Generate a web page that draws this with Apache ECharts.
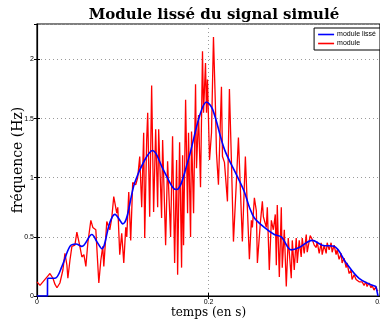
<!DOCTYPE html>
<html>
<head>
<meta charset="utf-8">
<script src="https://cdn.jsdelivr.net/npm/echarts@6/dist/echarts.min.js"></script>
<style>html,body{margin:0;padding:0;background:#fff}#c{width:380px;height:324px}</style>
</head>
<body>
<div id="c"></div>
<script>
// module (raw) — time in seconds, value in Hz
const redT = [0,0.0035,0.0058,0.0093,0.0128,0.0151,0.0186,0.0209,0.0233,0.0267,0.0302,0.0326,0.0349,0.0360,0.0384,0.0407,0.0442,0.0465,0.0500,0.0523,0.0547,0.0570,0.0593,0.0628,0.0651,0.0686,0.0721,0.0744,0.0767,0.0779,0.0814,0.0849,0.0872,0.0895,0.0930,0.0942,0.0965,0.0988,0.1012,0.1035,0.1047,0.1070,0.1093,0.1116,0.1151,0.1174,0.1198,0.1221,0.1244,0.1256,0.1279,0.1291,0.1314,0.1337,0.1360,0.1384,0.1407,0.1419,0.1453,0.1465,0.1500,0.1523,0.1558,0.1581,0.1605,0.1628,0.1640,0.1663,0.1686,0.1698,0.1709,0.1733,0.1756,0.1767,0.1791,0.1802,0.1826,0.1849,0.1860,0.1884,0.1907,0.1930,0.1942,0.1965,0.1977,0.1988,0.2012,0.2035,0.2058,0.2081,0.2093,0.2116,0.2151,0.2163,0.2186,0.2221,0.2244,0.2267,0.2291,0.2326,0.2349,0.2372,0.2395,0.2430,0.2453,0.2477,0.2500,0.2512,0.2535,0.2558,0.2570,0.2593,0.2605,0.2628,0.2640,0.2674,0.2686,0.2709,0.2733,0.2756,0.2779,0.2791,0.2802,0.2826,0.2849,0.2860,0.2884,0.2907,0.2930,0.2965,0.2977,0.3000,0.3023,0.3035,0.3058,0.3081,0.3093,0.3116,0.3140,0.3151,0.3186,0.3209,0.3233,0.3256,0.3267,0.3291,0.3314,0.3326,0.3349,0.3372,0.3384,0.3407,0.3430,0.3442,0.3465,0.3488,0.3500,0.3523,0.3547,0.3558,0.3581,0.3605,0.3616,0.3640,0.3663,0.3674,0.3698,0.3721,0.3733,0.3756,0.3791,0.3814,0.3837,0.3849,0.3872,0.3895,0.3907,0.3930,0.3953,0.3965,0.3977];
const redV = [0.12,0.09,0.08,0.14,0.17,0.19,0.15,0.10,0.07,0.11,0.22,0.36,0.26,0.15,0.30,0.42,0.43,0.54,0.42,0.33,0.35,0.25,0.45,0.64,0.58,0.56,0.11,0.30,0.42,0.25,0.63,0.56,0.66,0.84,0.70,0.75,0.35,0.53,0.28,0.58,0.50,0.88,0.47,0.96,0.94,1.00,1.18,0.75,1.38,0.49,1.32,1.55,0.67,1.78,0.71,1.41,0.75,1.41,0.66,1.32,0.43,1.14,0.50,1.35,0.28,1.15,0.18,1.30,0.24,1.19,0.43,1.66,0.70,1.38,0.50,1.39,0.70,1.79,1.08,1.53,0.92,2.07,1.55,1.97,1.55,1.83,1.15,1.38,2.19,1.60,1.21,0.94,1.77,1.18,1.13,0.80,1.75,1.15,0.46,0.98,1.34,0.90,0.46,1.18,0.75,0.31,0.64,0.58,0.83,0.72,0.28,0.28,0.62,0.80,0.67,0.58,0.75,0.22,0.64,0.56,0.69,0.26,0.77,0.16,0.75,0.24,0.56,0.08,0.49,0.15,0.47,0.22,0.49,0.28,0.47,0.33,0.49,0.36,0.52,0.37,0.51,0.48,0.43,0.41,0.46,0.36,0.45,0.35,0.43,0.36,0.45,0.39,0.45,0.37,0.43,0.35,0.39,0.31,0.36,0.28,0.32,0.24,0.28,0.19,0.22,0.14,0.18,0.14,0.15,0.12,0.12,0.09,0.12,0.08,0.11,0.07,0.09,0.05,0.08,0.05,0.04];

// module lissé (smoothed)
const blueT = [0,0.0122,0.0123,0.0209,0.0291,0.0384,0.0453,0.0523,0.0640,0.0698,0.0756,0.0849,0.0907,0.1000,0.1140,0.1256,0.1349,0.1465,0.1581,0.1628,0.1756,0.1895,0.1977,0.2047,0.2186,0.2337,0.2419,0.2477,0.2535,0.2651,0.2767,0.2849,0.2965,0.3058,0.3209,0.3326,0.3465,0.3605,0.3756,0.3953,0.3977];
const blueV = [0,0,0.15,0.15,0.25,0.42,0.44,0.42,0.52,0.46,0.40,0.62,0.69,0.61,0.96,1.15,1.23,1.08,0.92,0.90,1.13,1.52,1.64,1.58,1.24,1.01,0.88,0.75,0.66,0.58,0.52,0.50,0.39,0.41,0.47,0.43,0.42,0.28,0.15,0.08,0];

const xTicks = [0, 0.2, 0.4];
const yTicks = [0, 0.5, 1, 1.5, 2];
const titleText = 'Module lissé du signal simulé';
const xName = 'temps (en s)';
const yName = 'fréquence (Hz)';
const nameSmooth = 'module lissé';
const nameRaw = 'module';

const zip = (a, b) => a.map((t, i) => [t, b[i]]);
const redData = zip(redT, redV);
const blueAll = zip(blueT, blueV);
const blueStart = blueAll.slice(0, 3);
const blueMid = blueAll.slice(2, blueAll.length - 1);
const blueEnd = blueAll.slice(blueAll.length - 2);

const chart = echarts.init(document.getElementById('c'), null, {renderer: 'canvas'});
const tickFont = {fontFamily: 'Liberation Sans', fontSize: 7, color: '#000'};
const dotted = {show: true, lineStyle: {color: '#9a9a9a', type: [1, 3], width: 1}};
chart.setOption({
  animation: false,
  backgroundColor: '#fff',
  title: {
    text: titleText, left: 209, top: 3, textAlign: 'center',
    textStyle: {fontFamily: 'DejaVu Serif', fontWeight: 'bold', fontSize: 15, color: '#000'}
  },
  legend: {
    data: [nameSmooth, nameRaw], orient: 'vertical', right: 0, top: 28,
    icon: 'rect', itemWidth: 16, itemHeight: 1.6, itemGap: 2,
    padding: [3, 4, 3, 4], borderColor: '#000', borderWidth: 1, backgroundColor: '#fff',
    textStyle: {fontFamily: 'Liberation Sans', fontSize: 7, color: '#000', padding: [0, 0, 0, -2]}
  },
  grid: {left: 37, right: 0, top: 24, bottom: 28, outerBoundsMode: 'none', containLabel: false, show: true, borderColor: '#000', borderWidth: 1.2, backgroundColor: 'transparent'},
  xAxis: [{
    type: 'value', min: 0, max: 0.4, interval: 0.2,
    name: xName, nameLocation: 'middle', nameGap: 11, nameMoveOverlap: false,
    nameTextStyle: {fontFamily: 'DejaVu Serif', fontSize: 12, color: '#000'},
    axisLine: {show: true, lineStyle: {color: '#000', width: 1.2}},
    axisTick: {inside: true, length: 3, lineStyle: {color: '#000'}},
    axisLabel: Object.assign({margin: 3, formatter: v => xTicks.includes(Math.round(v * 10) / 10) ? String(Math.round(v * 10) / 10) : ''}, tickFont),
    splitLine: dotted
  }, {
    type: 'value', min: 0, max: 0.4, interval: 0.2, position: 'top',
    axisLine: {show: false}, axisTick: {inside: true, length: 3, lineStyle: {color: '#000'}},
    axisLabel: {show: false}, splitLine: {show: false}
  }],
  yAxis: [{
    type: 'value', min: 0, max: 2.3, interval: 0.5,
    name: yName, nameLocation: 'middle', nameGap: 12, nameRotate: 90, nameMoveOverlap: false,
    nameTextStyle: {fontFamily: 'DejaVu Serif', fontSize: 14, color: '#000'},
    axisLine: {show: true, lineStyle: {color: '#000', width: 1.2}},
    axisTick: {inside: true, length: 3, lineStyle: {color: '#000'}},
    axisLabel: Object.assign({margin: 3, showMaxLabel: false, formatter: v => yTicks.includes(v) ? String(v) : ''}, tickFont),
    splitLine: dotted
  }, {
    type: 'value', min: 0, max: 2.3, interval: 0.5, position: 'right',
    axisLine: {show: false}, axisTick: {inside: true, length: 3, lineStyle: {color: '#000'}},
    axisLabel: {show: false}, splitLine: {show: false}
  }],
  series: [
    {name: nameRaw, type: 'line', data: redData, symbol: 'none', lineStyle: {color: '#ff0000', width: 1.3}, itemStyle: {color: '#ff0000'}, z: 2},
    {name: nameSmooth, type: 'line', data: blueStart, symbol: 'none', lineStyle: {color: '#0000ff', width: 1.6}, itemStyle: {color: '#0000ff'}, z: 3},
    {name: nameSmooth, type: 'line', data: blueMid, symbol: 'none', smooth: 0.35, lineStyle: {color: '#0000ff', width: 1.6}, itemStyle: {color: '#0000ff'}, z: 3},
    {name: nameSmooth, type: 'line', data: blueEnd, symbol: 'none', lineStyle: {color: '#0000ff', width: 1.6}, itemStyle: {color: '#0000ff'}, z: 3}
  ]
});
</script>
</body>
</html>
